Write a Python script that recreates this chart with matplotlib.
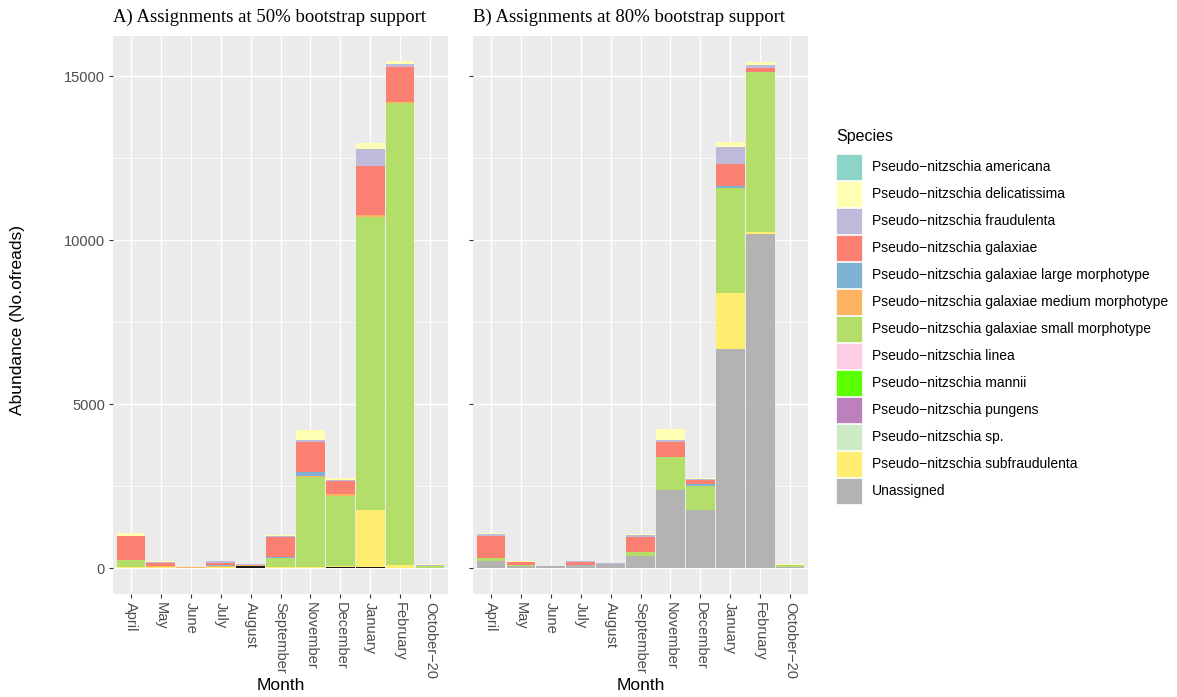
import numpy as np
import matplotlib
matplotlib.use("Agg")
import matplotlib.pyplot as plt
from matplotlib.patches import Rectangle

# ---- data -----------------------------------------------------------------
months = ["April", "May", "June", "July", "August", "September",
          "November", "December", "January", "February", "October\u221220"]

species = ["Pseudo\u2212nitzschia americana",
           "Pseudo\u2212nitzschia delicatissima",
           "Pseudo\u2212nitzschia fraudulenta",
           "Pseudo\u2212nitzschia galaxiae",
           "Pseudo\u2212nitzschia galaxiae large morphotype",
           "Pseudo\u2212nitzschia galaxiae medium morphotype",
           "Pseudo\u2212nitzschia galaxiae small morphotype",
           "Pseudo\u2212nitzschia linea",
           "Pseudo\u2212nitzschia mannii",
           "Pseudo\u2212nitzschia pungens",
           "Pseudo\u2212nitzschia sp.",
           "Pseudo\u2212nitzschia subfraudulenta",
           "Unassigned"]

species_colors = ["#8DD3C7", "#FFFFB3", "#BEBADA", "#FB8072", "#80B1D3",
                  "#FDB462", "#B3DE69", "#FCCDE5", "#5CFF00", "#BC80BD",
                  "#CCEBC5", "#FFED6F", "#B3B3B3"]

zeros = [0] * 11

# 50% bootstrap support (reads per species, per month)
a_americana      = zeros
a_delicatissima  = [80, 15, 0, 10, 0, 20, 310, 40, 190, 90, 40]
a_fraudulenta    = [25, 20, 0, 40, 30, 40, 50, 40, 500, 70, 30]
a_galaxiae       = [720, 100, 0, 70, 0, 600, 915, 385, 1510, 1070, 0]
a_large          = [0, 0, 0, 20, 0, 30, 120, 0, 0, 0, 0]
a_medium         = [10, 40, 40, 40, 30, 20, 40, 70, 40, 30, 0]
a_small          = [200, 0, 0, 0, 0, 250, 2750, 2135, 8950, 14100, 50]
a_linea          = zeros
a_mannii         = zeros
a_pungens        = zeros
a_sp             = zeros
a_subfraudulenta = [40, 30, 0, 40, 20, 50, 30, 40, 1740, 80, 10]
a_unassigned     = zeros
a_unresolved     = [0, 0, 0, 0, 55, 0, 0, 25, 30, 10, 0]

# 80% bootstrap support
b_americana      = zeros
b_delicatissima  = [55, 30, 0, 10, 0, 10, 320, 40, 165, 110, 40]
b_fraudulenta    = [50, 10, 0, 40, 20, 60, 60, 20, 510, 70, 0]
b_galaxiae       = [660, 80, 0, 70, 0, 460, 470, 120, 680, 120, 0]
b_large          = [0, 0, 0, 0, 0, 0, 0, 60, 50, 0, 0]
b_medium         = [20, 10, 0, 10, 0, 0, 0, 0, 0, 0, 0]
b_small          = [80, 20, 10, 0, 0, 120, 1000, 735, 3200, 4900, 60]
b_linea          = zeros
b_mannii         = zeros
b_pungens        = zeros
b_sp             = zeros
b_subfraudulenta = [0, 0, 0, 0, 0, 0, 0, 0, 1700, 40, 0]
b_unassigned     = [220, 80, 60, 100, 130, 380, 2390, 1780, 6690, 10200, 40]

panel_a = [a_americana, a_delicatissima, a_fraudulenta, a_galaxiae, a_large,
           a_medium, a_small, a_linea, a_mannii, a_pungens, a_sp,
           a_subfraudulenta, a_unassigned]
panel_b = [b_americana, b_delicatissima, b_fraudulenta, b_galaxiae, b_large,
           b_medium, b_small, b_linea, b_mannii, b_pungens, b_sp,
           b_subfraudulenta, b_unassigned]

titles = ["A) Assignments at 50% bootstrap support",
          "B) Assignments at 80% bootstrap support"]

# ---- figure ---------------------------------------------------------------
W, H = 1177, 697
fig = plt.figure(figsize=(W / 100, H / 100), dpi=100)
fig.patch.set_facecolor("white")

sans = "Liberation Sans"
serif = "Liberation Serif"

totals_a = np.sum(np.array(panel_a), axis=0) + np.array(a_unresolved)
totals_b = np.sum(np.array(panel_b), axis=0)
ymax = max(totals_a.max(), totals_b.max())
pad = 0.05 * ymax

x = np.arange(len(months))
panel_left = [113, 473]
panel_w = 335
top_px, bot_px = 36, 593.5


def draw_panel(ax, series, extra_base=None):
    bottom = np.zeros(len(months))
    if extra_base is not None:
        ax.bar(x, extra_base, bottom=bottom, width=0.96, color="#1a1a1a",
               linewidth=0, zorder=3)
        bottom = bottom + np.array(extra_base)
    # stack from the last legend level upwards so the first level sits on top
    for vals, col in zip(series[::-1], species_colors[::-1]):
        vals = np.array(vals, dtype=float)
        ax.bar(x, vals, bottom=bottom, width=0.96, color=col,
               linewidth=0, zorder=3)
        bottom = bottom + vals
    ax.set_facecolor("#EBEBEB")
    ax.set_xlim(-0.6, len(months) - 0.4)
    ax.set_ylim(-pad, ymax + pad)
    ax.set_yticks([0, 5000, 10000, 15000])
    ax.set_yticks([2500, 7500, 12500], minor=True)
    ax.set_xticks(x)
    ax.grid(which="major", color="white", linewidth=1.0, zorder=0)
    ax.grid(which="minor", axis="y", color="white", linewidth=0.5, zorder=0)
    ax.set_axisbelow(True)
    for s in ax.spines.values():
        s.set_visible(False)
    ax.tick_params(which="major", length=2.8, width=0.8, color="#333333",
                   labelcolor="#4D4D4D", labelsize=10.5, pad=3)
    ax.tick_params(which="minor", length=0)
    ax.set_xticklabels(months, rotation=270, fontfamily=sans,
                       ha="center", va="top")


for i, (series, title) in enumerate(zip([panel_a, panel_b], titles)):
    ax = fig.add_axes([panel_left[i] / W, 1 - bot_px / H,
                       panel_w / W, (bot_px - top_px) / H])
    draw_panel(ax, series, a_unresolved if i == 0 else None)
    if i == 0:
        ax.set_yticklabels(["0", "5000", "10000", "15000"], fontfamily=sans)
    else:
        ax.set_yticklabels([])
    fig.text(panel_left[i] / W, 1 - 17 / H, title, fontfamily=serif,
             fontsize=13.5, ha="left", va="center", color="black")
    fig.text((panel_left[i] + panel_w / 2) / W, 1 - 686 / H, "Month",
             fontfamily=sans, fontsize=12.5, ha="center", va="center")

fig.text(18 / W, 1 - 320 / H, "Abundance (No.ofreads)", fontfamily=sans,
         fontsize=12.5, rotation=90, ha="center", va="center")

# ---- legend ---------------------------------------------------------------
lx, ly0, key = 836, 153.5, 27
fig.text(lx / W, 1 - 136.5 / H, "Species", fontfamily=sans, fontsize=11.5,
         ha="left", va="center")
for j, (name, col) in enumerate(zip(species, species_colors)):
    y_top = ly0 + j * key
    fig.add_artist(Rectangle((lx / W, 1 - (y_top + key - 0.5) / H),
                             (key - 1) / W, (key - 1) / H,
                             transform=fig.transFigure, facecolor=col,
                             edgecolor="white", linewidth=0.5))
    fig.text(872 / W, 1 - (y_top + key / 2) / H, name, fontfamily=sans,
             fontsize=10, ha="left", va="center")

fig.savefig("out.png", dpi=100)
